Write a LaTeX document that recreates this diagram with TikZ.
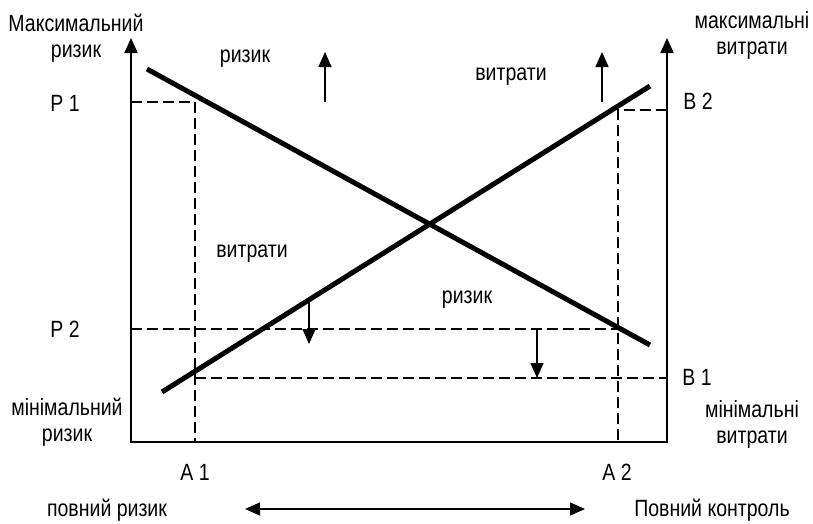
\documentclass[tikz,border=0pt]{standalone}
\usepackage{fontspec}
\setmainfont{Liberation Sans}[FakeStretch=0.83]
\usetikzlibrary{arrows.meta}
\begin{document}
\begin{tikzpicture}[x=1pt,y=-1pt,
  lbl/.style={font=\fontsize{23.5}{26}\selectfont, inner sep=0pt, align=center},
  axisline/.style={line width=2pt, {Triangle[length=15pt,width=13pt]}-{Triangle[length=15pt,width=13pt]}},
  boldline/.style={line width=5pt},
  dashline/.style={line width=1.5pt, dash pattern=on 11pt off 5pt},
  arrowline/.style={line width=1.5pt, -{Triangle[length=15pt,width=13pt]}},
  dblarrow/.style={line width=1.5pt, {Triangle[length=15pt,width=13pt]}-{Triangle[length=15pt,width=13pt]}}]
\useasboundingbox (0,0) rectangle (813,523);
% axes frame
\coordinate (lt) at (131,38);
\coordinate (lb) at (131,442);
\coordinate (rb) at (667,442);
\coordinate (rt) at (667,38);
\draw[axisline] (lt) -- (lb) -- (rb) -- (rt);
% dashed guides
\coordinate (p1l) at (131,102);
\coordinate (p1r) at (195,102);
\coordinate (a1b) at (195,442);
\draw[dashline] (p1l) -- (p1r) -- (a1b);
\coordinate (b2r) at (667,110);
\coordinate (b2l) at (618,110);
\coordinate (a2b) at (618,442);
\draw[dashline] (b2r) -- (b2l) -- (a2b);
\coordinate (p2l) at (131,329);
\coordinate (p2r) at (618,329);
\draw[dashline] (p2l) -- (p2r);
\coordinate (b1l) at (195,378);
\coordinate (b1r) at (667,378);
\draw[dashline] (b1l) -- (b1r);
% main lines
\coordinate (rs) at (147,69);
\coordinate (re) at (650,345);
\draw[boldline] (rs) -- (re);
\coordinate (cs) at (162,392);
\coordinate (ce) at (650,86);
\draw[boldline] (cs) -- (ce);
% up arrows
\coordinate (u1a) at (325,102);
\coordinate (u1b) at (325,52);
\draw[arrowline] (u1a) -- (u1b);
\coordinate (u2a) at (602,102);
\coordinate (u2b) at (602,52);
\draw[arrowline] (u2a) -- (u2b);
% down arrows
\coordinate (d1a) at (309,302);
\coordinate (d1b) at (309,344);
\draw[arrowline] (d1a) -- (d1b);
\coordinate (d2a) at (537,329);
\coordinate (d2b) at (537,378);
\draw[arrowline] (d2a) -- (d2b);
% bottom double arrow
\coordinate (ba) at (245,509);
\coordinate (bb) at (585,509);
\draw[dblarrow] (ba) -- (bb);
% labels
\node[lbl] (maxr) at (76,38) {Максимальний\\ризик};
\node[lbl] (maxc) at (752,35) {максимальні\\витрати};
\node[lbl, anchor=base] (r1) at (245,62) {ризик};
\node[lbl, anchor=base] (c1) at (511,80) {витрати};
\node[lbl, anchor=base] (c2) at (252,257) {витрати};
\node[lbl, anchor=base] (r2) at (467,303) {ризик};
\node[lbl] (P1) at (65,103) {P 1};
\node[lbl] (P2) at (65,329) {P 2};
\node[lbl] (B2) at (698,101) {B 2};
\node[lbl] (B1) at (697,377) {B 1};
\node[lbl] (minr) at (67,422) {мінімальний\\ризик};
\node[lbl] (minc) at (752,424) {мінімальні\\витрати};
\node[lbl] (A1) at (195,472) {A 1};
\node[lbl] (A2) at (617,472) {A 2};
\node[lbl, anchor=base] (full1) at (107,516) {повний ризик};
\node[lbl, anchor=base] (full2) at (712,516) {Повний контроль};
\end{tikzpicture}
\end{document}
